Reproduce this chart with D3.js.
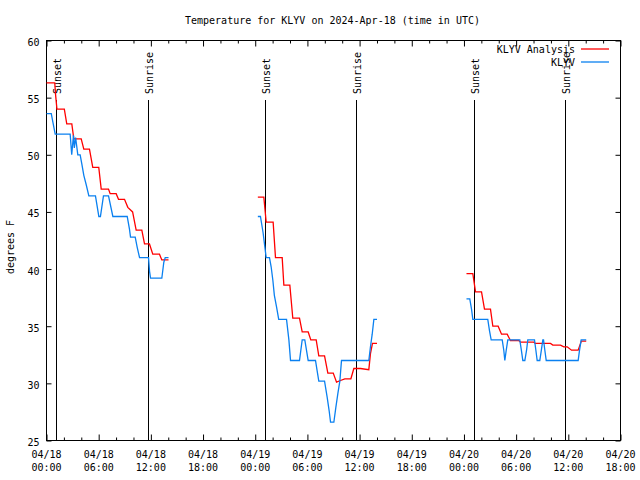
<!DOCTYPE html>
<html><head><meta charset="utf-8">
<script src="https://cdn.jsdelivr.net/npm/d3@7"></script>
<style>
body{margin:0;background:#fff}
svg{display:block}
text{font-family:"DejaVu Sans Mono",monospace;font-size:10px;fill:#000}
</style>
</head><body><svg id="c" width="640" height="480"></svg>
<script>
// ---- data ----
const titleText = "Temperature for KLYV on 2024-Apr-18 (time in UTC)";
const yLabel = "degrees F";
const startTime = "2024-04-18T00:00:00Z";
const endTime = "2024-04-20T18:00:00Z";
const yTicks = [25, 30, 35, 40, 45, 50, 55, 60];
const seriesNames = ["KLYV Analysis", "KLYV"];
// hours after 2024-04-18 00:00 UTC; null = gap
const analysisHours = [0.0,0.95,1.05,1.2,2.05,2.33,2.91,3.14,3.99,4.29,4.94,5.32,6.01,6.29,7.13,7.32,8.01,8.28,8.97,9.35,9.9,10.31,10.96,11.27,11.84,12.22,12.99,13.26,14.03,
  null,
  24.3,24.99,25.26,26.06,26.33,27.1,27.29,27.98,28.32,29.09,29.4,30.09,30.39,31.01,31.31,31.97,32.35,32.97,33.35,33.8,34.3,35.0,35.34,36.1,37.06,37.25,37.48,38.0,
  null,
  48.29,49.02,49.33,50.02,50.36,51.05,51.32,51.93,52.32,52.97,53.35,54.3,54.5,56.03,56.2,57.95,58.22,59.1,59.48,59.87,60.37,61.13,61.5,62.06];
const analysisTemps = [56.3,56.3,55.2,54.0,54.0,52.7,52.7,51.4,51.4,50.5,50.5,48.9,48.9,47.0,47.0,46.6,46.6,46.1,46.1,45.4,45.0,43.4,43.4,42.2,42.2,41.3,41.3,40.8,40.8,
  null,
  46.3,46.3,44.1,44.1,41.0,41.0,38.6,38.6,35.7,35.7,34.5,34.5,33.8,33.8,32.4,32.4,30.9,30.9,30.1,30.25,30.4,30.4,31.3,31.3,31.2,32.6,33.5,33.5,
  null,
  39.6,39.6,38.0,38.0,36.5,36.5,35.0,35.0,34.3,34.3,33.75,33.75,33.6,33.6,33.5,33.5,33.35,33.35,33.2,33.2,32.9,32.9,33.7,33.7];
const klyvHours = [0.0,0.55,0.75,1.0,2.72,2.9,3.1,3.2,3.35,3.6,3.87,4.06,4.29,4.56,4.87,5.63,6.02,6.2,6.55,7.13,7.63,9.28,9.54,9.66,10.2,10.43,10.7,11.73,11.85,11.96,13.26,13.49,13.65,14.03,
  null,
  24.3,24.6,24.9,25.08,25.26,25.64,25.83,26.03,26.2,26.45,26.7,27.6,27.87,28.06,29.09,29.4,29.7,30.09,30.93,31.12,31.31,31.97,32.27,32.5,32.66,33.04,33.27,33.5,33.73,33.92,37.06,37.25,37.45,37.64,38.0,
  null,
  48.29,48.67,48.87,49.02,50.74,50.94,51.13,52.4,52.58,52.7,52.86,53.04,54.42,54.6,54.77,55.0,55.2,55.34,56.11,56.27,56.42,56.72,56.9,57.07,57.15,57.3,57.46,61.13,61.29,61.48,62.06];
const klyvTemps = [53.6,53.6,52.8,51.8,51.8,50.0,51.7,50.6,51.5,50.0,50.0,49.2,48.2,47.4,46.4,46.4,44.6,44.6,46.4,46.4,44.6,44.6,43.5,42.8,42.8,41.9,41.0,41.0,39.8,39.2,39.2,40.6,41.0,41.0,
  null,
  44.6,44.6,43.2,42.1,41.0,41.0,40.2,39.0,37.7,36.7,35.6,35.6,33.8,32.0,32.0,33.8,33.8,32.0,32.0,31.1,30.2,30.2,28.8,27.6,26.6,26.6,27.9,29.1,30.2,32.0,32.0,33.2,34.3,35.6,35.6,
  null,
  37.4,37.4,36.5,35.6,35.6,34.6,33.8,33.8,32.9,32.0,32.9,33.8,33.8,32.9,32.0,32.0,32.9,33.8,33.8,32.9,32.0,32.0,32.9,33.8,33.8,32.9,32.0,32.0,32.9,33.8,33.8];
const sunLabels = ["Sunset", "Sunrise", "Sunset", "Sunrise", "Sunset", "Sunrise"];
const sunHours = [1.19, 11.77, 25.15, 35.68, 49.25, 59.71];

// ---- drawing ----
const L = 46.5, R = 620.5, T = 40.5, B = 440.5;
const t0 = new Date(startTime), t1 = new Date(endTime);
const toDate = h => new Date(t0.getTime() + h * 3600e3);
const x = d3.scaleUtc().domain([t0, t1]).range([L, R]);
const y = d3.scaleLinear().domain([25, 60]).range([B, T]);
const svg = d3.select("#c");

const majors = d3.utcHour.every(6).range(t0, new Date(t1.getTime() + 1));
const minors = d3.utcHour.every(2).range(t0, new Date(t1.getTime() + 1)).filter(d => d.getUTCHours() % 6 !== 0);

// bottom ticks
svg.append("g").attr("transform", `translate(0,${B})`)
  .call(d3.axisBottom(x).tickValues(majors).tickSize(-6).tickFormat(""))
  .call(g => g.select(".domain").remove());
svg.append("g").attr("transform", `translate(0,${B})`)
  .call(d3.axisBottom(x).tickValues(minors).tickSize(-3).tickFormat(""))
  .call(g => g.select(".domain").remove());
// top mirrored ticks
svg.append("g").attr("transform", `translate(0,${T})`)
  .call(d3.axisTop(x).tickValues(majors).tickSize(-6).tickFormat(""))
  .call(g => g.select(".domain").remove());
svg.append("g").attr("transform", `translate(0,${T})`)
  .call(d3.axisTop(x).tickValues(minors).tickSize(-3).tickFormat(""))
  .call(g => g.select(".domain").remove());
// left axis
svg.append("g").attr("transform", `translate(${L},0)`)
  .call(d3.axisLeft(y).tickValues(yTicks).tickSize(-5).tickPadding(7).tickFormat(d3.format("d")))
  .call(g => g.select(".domain").remove())
  .call(g => g.selectAll("text").attr("dy", "0.5em").style("font-family", "DejaVu Sans Mono").style("font-size", "10px"));
// right mirrored ticks
svg.append("g").attr("transform", `translate(${R},0)`)
  .call(d3.axisRight(y).tickValues(yTicks).tickSize(-5).tickFormat(""))
  .call(g => g.select(".domain").remove());

svg.selectAll("g.tick line").attr("stroke", "#000");

// x labels (two lines)
const fmtD = d3.utcFormat("%m/%d"), fmtT = d3.utcFormat("%H:%M");
const xl = svg.append("g");
majors.forEach(d => {
  const t = xl.append("text").attr("text-anchor", "middle");
  t.append("tspan").attr("x", x(d)).attr("y", 458).text(fmtD(d));
  t.append("tspan").attr("x", x(d)).attr("y", 470.5).text(fmtT(d));
});

// border
svg.append("rect").attr("x", L).attr("y", T).attr("width", R - L).attr("height", B - T)
  .attr("fill", "none").attr("stroke", "#000").attr("stroke-width", 1);

// sunrise / sunset
sunHours.forEach((h, i) => {
  const xx = Math.floor(x(toDate(h))) + 0.5;
  svg.append("line").attr("x1", xx).attr("x2", xx).attr("y1", B).attr("y2", 100)
    .attr("stroke", "#000").attr("stroke-width", 1);
  svg.append("text").attr("transform", `translate(${xx + 4},94) rotate(-90)`)
    .attr("text-anchor", "start").text(sunLabels[i]);
});

// series
const line = d3.line().defined(d => d.v != null).x(d => x(toDate(d.h))).y(d => y(d.v));
const aData = analysisHours.map((h, i) => ({h, v: h == null ? null : analysisTemps[i]}));
const kData = klyvHours.map((h, i) => ({h, v: h == null ? null : klyvTemps[i]}));
const colors = ["#ff0000", "#0a80f0"];
svg.append("path").datum(aData).attr("d", line).attr("fill", "none").attr("stroke", colors[0]).attr("stroke-width", 1.3);
svg.append("path").datum(kData).attr("d", line).attr("fill", "none").attr("stroke", colors[1]).attr("stroke-width", 1.3);

// legend
seriesNames.forEach((n, i) => {
  const yy = 49 + i * 13;
  svg.append("text").attr("x", 575).attr("y", yy + 3.5).attr("text-anchor", "end").text(n);
  svg.append("line").attr("x1", 581).attr("x2", 609).attr("y1", yy).attr("y2", yy)
    .attr("stroke", colors[i]).attr("stroke-width", 1.3);
});

// title & y label
svg.append("text").attr("x", 332.5).attr("y", 24).attr("text-anchor", "middle").text(titleText);
svg.append("text").attr("transform", "translate(13.5,247) rotate(-90)").attr("text-anchor", "middle").text(yLabel);
</script>
</body></html>
